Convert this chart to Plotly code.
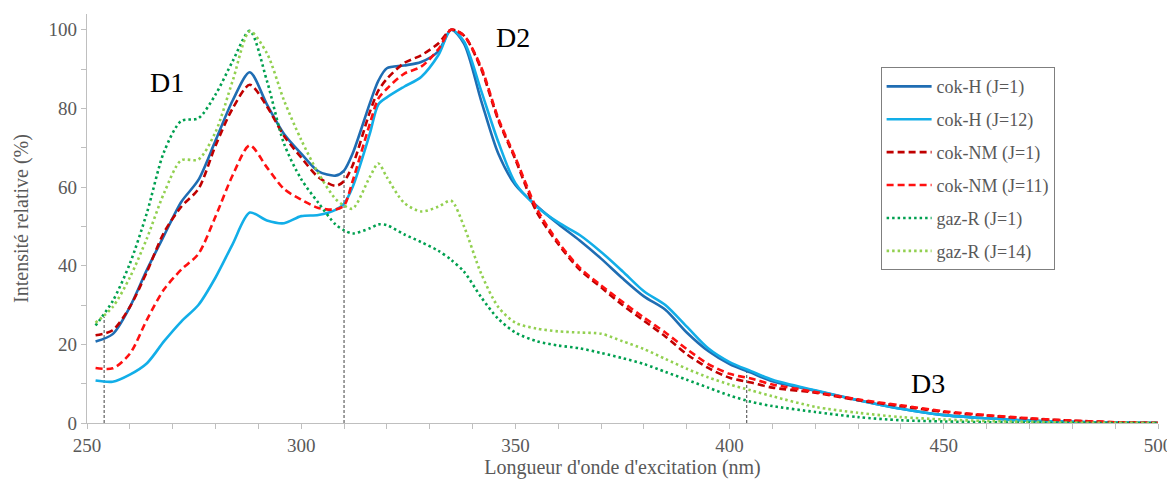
import plotly.graph_objects as go

# wavelength grid (nm)
wavelength = [252, 256, 260, 264, 268, 272, 276, 280, 284, 288, 292, 296, 300, 304, 308, 310,
              312, 316, 318, 320, 324, 328, 332, 335, 338, 342, 346, 350, 355, 360, 365, 370,
              375, 380, 385, 390, 395, 400, 405, 410, 420, 430, 440, 450, 460, 470, 480, 490, 500]

cokH_J1 = [20.7, 22.6, 29.5, 39, 47.7, 56.2, 61.8, 71.8, 82, 89.2, 81, 73.5, 68.5, 64, 62.9, 64.2,
           68.5, 81.2, 87, 90.2, 90.9, 91.8, 94.5, 100, 96.5, 82, 68.5, 60.5, 55.2, 50.6, 46.4, 41.8,
           36.8, 32.2, 28.8, 23, 18.3, 15, 12.8, 10.6, 8.2, 5.8, 3.6, 2.0, 1.2, 0.6, 0.3, 0.1, 0]

cokH_J12 = [10.8, 10.5, 12.3, 15.2, 20.8, 25.8, 30, 37, 45.5, 53.5, 51.5, 50.8, 52.6, 52.9, 54.2, 55.8,
            60, 73.5, 81, 82.8, 85.5, 88, 93.5, 100, 97, 84.5, 71.5, 61, 55, 51, 47.8, 43.5,
            38.6, 33.5, 30, 24.5, 19, 15.5, 13.2, 11, 8.3, 5.8, 3.6, 2.0, 1.2, 0.6, 0.3, 0.1, 0]

cokNM_J1 = [22.3, 23.6, 29.5, 38.5, 48.5, 55, 59.5, 70.5, 80, 86, 80.5, 73, 67.5, 62.5, 60.3, 61.5,
            65.5, 79, 84.5, 87.5, 91.5, 93.5, 96.5, 100, 98.5, 90, 77, 67, 53.6, 45.5, 39, 34.5,
            30, 26, 22, 17.5, 14, 11.5, 10.3, 9, 7.7, 5.8, 4.3, 2.8, 1.9, 1.1, 0.6, 0.2, 0]

cokNM_J11 = [14, 13.9, 17.6, 26.3, 34, 39, 43, 52.5, 63, 70.6, 65, 59.5, 56.8, 54.7, 54.3, 55.3,
             61.5, 76, 82.5, 85, 88.8, 90.6, 95, 100, 98.5, 90.5, 77.5, 67.5, 54.5, 46, 39.5, 35,
             30.8, 26.8, 23, 18.8, 15, 12.5, 11.3, 9.8, 7.9, 6, 4.5, 3.0, 2.0, 1.2, 0.6, 0.2, 0]

gazR_J1 = [24.8, 31, 40.5, 53.5, 69, 76.8, 77.5, 83.5, 92, 99.7, 87, 71, 62, 56, 50.5, 49,
           48.2, 49.5, 50.5, 50.3, 48, 46, 43.8, 41.5, 38.5, 32, 26.5, 23, 20.8, 19.7, 19, 17.8,
           16.5, 15, 13, 11, 9, 7, 5.4, 4.3, 2.8, 1.5, 0.7, 0.4, 0.2, 0.1, 0.05, 0, 0]

gazR_J14 = [25.5, 29.5, 37, 47, 58.5, 66.8, 67, 74, 87, 99.6, 94, 82, 72, 63.5, 57, 55.3,
            54.5, 62.5, 66, 62.5, 56, 53.8, 55, 56.5, 50, 38, 29.5, 25.5, 24, 23.3, 23, 22.7,
            20.8, 18.8, 16.3, 13.8, 11.6, 9.8, 8.3, 6.8, 4.1, 2.6, 1.5, 0.9, 0.5, 0.3, 0.1, 0.05, 0]

series_names = ["cok-H (J=1)", "cok-H (J=12)", "cok-NM (J=1)", "cok-NM (J=11)", "gaz-R (J=1)", "gaz-R (J=14)"]
series_values = [cokH_J1, cokH_J12, cokNM_J1, cokNM_J11, gazR_J1, gazR_J14]
series_colors = ["#1F6DB3", "#12AEE8", "#C00000", "#FF1010", "#00A050", "#92D050"]
series_dash = ["solid", "solid", "7px,4px", "7px,4px", "2.5px,3px", "2.5px,3px"]

# reference markers (vertical dashed lines)
marker_x = [254, 310, 404]
marker_top = [27, 64, 13]

# region labels
label_text = ["D1", "D2", "D3"]
label_x = [268.7, 349.4, 446.2]
label_y = [86.6, 97.9, 10.1]

FONT = "Liberation Serif"
GRAY = "#595959"

fig = go.Figure()
for name, vals, col, dash in zip(series_names, series_values, series_colors, series_dash):
    fig.add_trace(go.Scatter(
        x=wavelength, y=vals, mode="lines", name=name, legendgroup=name,
        line=dict(color=col, width=2.6, dash=dash, shape="spline", smoothing=0.8),
    ))

for mx, mt in zip(marker_x, marker_top):
    fig.add_shape(type="line", x0=mx, x1=mx, y0=0, y1=mt, xref="x", yref="y",
                  line=dict(color="#404040", width=1, dash="3px,2px"), layer="below")

for t, lx, ly in zip(label_text, label_x, label_y):
    fig.add_annotation(x=lx, y=ly, text=t, showarrow=False, xref="x", yref="y",
                       font=dict(family=FONT, size=28, color="black"))

fig.update_layout(
    width=1180, height=472,
    margin=dict(l=79, r=30, t=6, b=57, autoexpand=False),
    plot_bgcolor="white", paper_bgcolor="white",
    font=dict(family=FONT, color=GRAY, size=19),
    legend=dict(
        x=0.741, y=0.870, xanchor="left", yanchor="top",
        bordercolor="#7F7F7F", borderwidth=1, bgcolor="white",
        font=dict(family=FONT, size=18, color=GRAY),
        traceorder="grouped", tracegroupgap=6.5, itemwidth=45,
    ),
    xaxis=dict(
        range=[250, 500], tickvals=[250, 300, 350, 400, 450, 500],
        showline=True, linecolor="#BFBFBF", linewidth=1.2,
        ticks="outside", ticklen=5, tickcolor="#BFBFBF",
        minor=dict(dtick=10, ticks="outside", ticklen=5, tickcolor="#BFBFBF"),
        showgrid=False, zeroline=False, automargin=False,
        title=dict(text="Longueur d'onde d'excitation (nm)", font=dict(size=20, color=GRAY), standoff=4),
        tickfont=dict(size=19, color=GRAY),
    ),
    yaxis=dict(
        range=[0, 104], tickvals=[0, 20, 40, 60, 80, 100],
        showline=True, linecolor="#BFBFBF", linewidth=1.2,
        ticks="outside", ticklen=5, tickcolor="#BFBFBF",
        minor=dict(dtick=10, ticks="outside", ticklen=5, tickcolor="#BFBFBF"),
        showgrid=False, zeroline=False, automargin=False,
        title=dict(text="Intensité relative (%)", font=dict(size=20, color=GRAY), standoff=14),
        tickfont=dict(size=19, color=GRAY),
    ),
)

fig.write_html("out.html")
